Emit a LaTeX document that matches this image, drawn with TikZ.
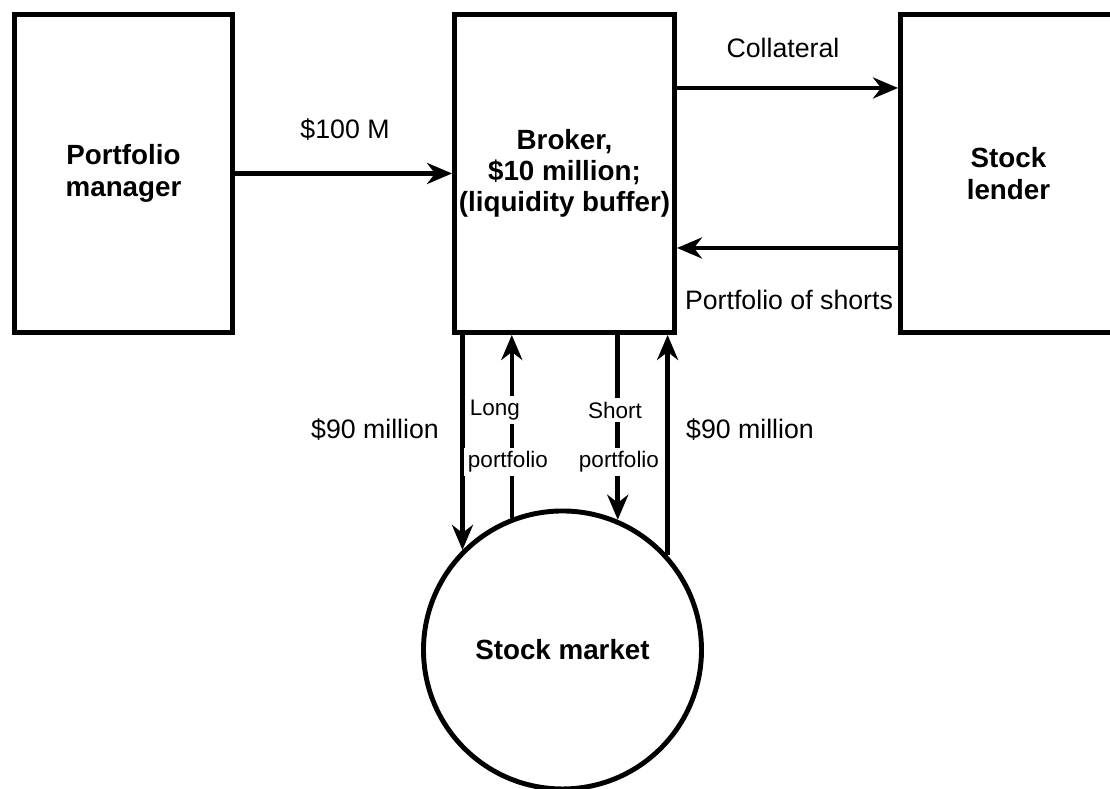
\documentclass[tikz,border=0pt]{standalone}
\usepackage{fontspec}
\setmainfont{Liberation Sans}
\usetikzlibrary{arrows.meta}

\tikzset{
  box/.style={draw, line width=1.4pt, minimum width=2.18cm, minimum height=3.18cm,
    inner sep=0pt, align=center, font=\fontsize{7.9}{8.9}\selectfont\bfseries},
  flow/.style={line width=1.3pt, ->},
  lbl/.style={font=\fontsize{7.6}{9}\selectfont},
  tag/.style={font=\fontsize{6.4}{7}\selectfont, fill=white, inner sep=1pt},
}

\begin{document}
\begin{tikzpicture}[>={Stealth[length=2.5mm,width=2.1mm,inset=0.8mm]}]
      \useasboundingbox (0,0) rectangle (11.1,7.89);
      \clip (0,0) rectangle (11.1,7.89);
      % boxes
      \node[box] (pm) at (1.235,6.155) {Portfolio\\manager};
      \node[box, minimum width=2.2cm] (broker) at (5.645,6.155) {Broker,\\\$10 million;\\(liquidity buffer)};
      \node[box, minimum width=2.16cm] (lender) at (10.085,6.155) {Stock\\lender};
      \node[box, circle, minimum size=2.78cm] (market) at (5.625,1.39) {Stock market};
      % flows between the boxes
      \draw[flow] (pm) -- (broker);
      \draw[flow] ([yshift=0.855cm]broker.east) -- ([yshift=0.855cm]lender.west);
      \draw[flow] ([yshift=-0.745cm]lender.west) -- ([yshift=-0.745cm]broker.east);
      \draw[flow] (market.135 |- broker.south) -- (market.135);
      \draw[flow] (market.111) -- (market.111 |- broker.south);
      \draw[flow] (market.67 |- broker.south) -- (market.67);
      \draw[flow] (market.42) -- (market.42 |- broker.south);
      % labels
      \node[lbl] (l100) at (3.45,6.59) {\$100 M};
      \node[lbl] (lcoll) at (7.83,7.41) {Collateral};
      \node[lbl] (lshorts) at (7.89,4.89) {Portfolio of shorts};
      \node[lbl] (lninetya) at (3.75,3.59) {\$90 million};
      \node[lbl] (lninetyb) at (7.50,3.59) {\$90 million};
      \node[tag] (tlong) at (4.95,3.79) {Long};
      \node[tag] (tlongp) at (5.08,3.27) {portfolio};
      \node[tag] (tshort) at (6.15,3.79) {Short};
      \node[tag] (tshortp) at (6.19,3.27) {portfolio};
\end{tikzpicture}
\end{document}
